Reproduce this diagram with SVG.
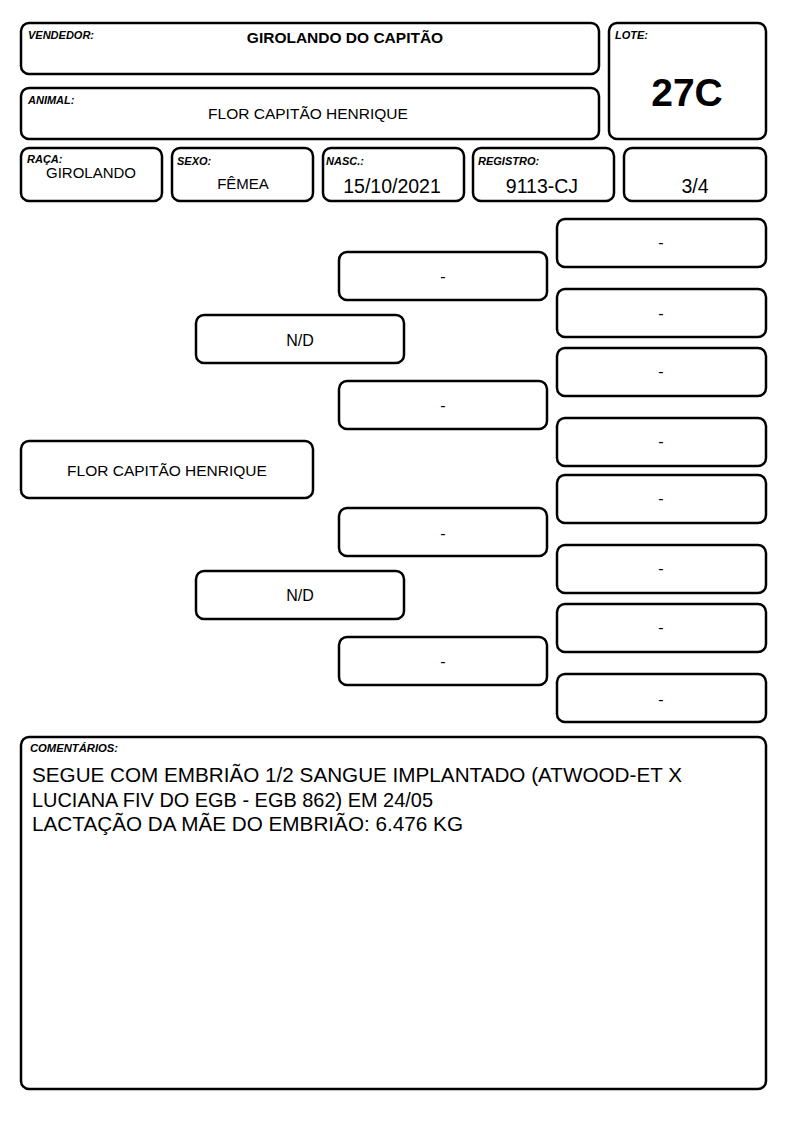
<svg xmlns="http://www.w3.org/2000/svg" width="794" height="1123" viewBox="0 0 794 1123">
<style>
.b{fill:#fff;stroke:#000;stroke-width:2.5}
.l{font-family:"Liberation Sans",Arial,sans-serif;font-size:11px;font-weight:bold;font-style:italic;fill:#000}
.t{font-family:"Liberation Sans",Arial,sans-serif;fill:#000;text-anchor:middle}
.p{font-family:"Liberation Sans",Arial,sans-serif;font-size:16px;fill:#000;text-anchor:middle}
.c{font-family:"Liberation Sans",Arial,sans-serif;font-size:21px;fill:#000}
</style>
<rect width="794" height="1123" fill="#fff"/>
<g id="vendedor"><rect class="b" x="21" y="23" width="578" height="51" rx="8"/><text class="l" x="28" y="39">VENDEDOR:</text><text class="t" x="345" y="43" font-size="15.5" font-weight="bold">GIROLANDO DO CAPITÃO</text></g>
<g id="lote"><rect class="b" x="609" y="23" width="157" height="116" rx="8"/><text class="l" x="615" y="39">LOTE:</text><text class="t" x="687" y="106" font-size="39" font-weight="bold">27C</text></g>
<g id="animal"><rect class="b" x="21" y="88" width="578" height="51" rx="8"/><text class="l" x="28" y="104">ANIMAL:</text><text class="t" x="308" y="119" font-size="15.5">FLOR CAPITÃO HENRIQUE</text></g>
<g id="raca"><rect class="b" x="21" y="148" width="141" height="53" rx="8"/><text class="l" x="27" y="163">RAÇA:</text><text class="t" x="91" y="178" font-size="15">GIROLANDO</text></g>
<g id="sexo"><rect class="b" x="172" y="148" width="141" height="53" rx="8"/><text class="l" x="177" y="165">SEXO:</text><text class="t" x="243" y="189" font-size="15">FÊMEA</text></g>
<g id="nasc"><rect class="b" x="323" y="148" width="141" height="53" rx="8"/><text class="l" x="326" y="165">NASC.:</text><text class="t" x="392" y="193" font-size="19.5">15/10/2021</text></g>
<g id="registro"><rect class="b" x="473" y="148" width="141" height="53" rx="8"/><text class="l" x="478" y="165">REGISTRO:</text><text class="t" x="542" y="193" font-size="19.5">9113-CJ</text></g>
<g id="grau"><rect class="b" x="624" y="148" width="142" height="53" rx="8"/><text class="t" x="695" y="193" font-size="19.5">3/4</text></g>
<g id="connectors"></g>
<g id="p0"><rect class="b" x="21" y="441" width="292" height="57" rx="8"/><text class="p" x="167" y="476" style="font-size:15.5px">FLOR CAPITÃO HENRIQUE</text></g>
<g id="p1"><rect class="b" x="196" y="315" width="208" height="48" rx="8"/><text class="p" x="300" y="346">N/D</text></g>
<g id="p2"><rect class="b" x="196" y="571" width="208" height="48" rx="8"/><text class="p" x="300" y="601">N/D</text></g>
<g id="g1"><rect class="b" x="339" y="252" width="208" height="48" rx="8"/><text class="p" x="443" y="282">-</text></g>
<g id="g2"><rect class="b" x="339" y="381" width="208" height="48" rx="8"/><text class="p" x="443" y="411">-</text></g>
<g id="g3"><rect class="b" x="339" y="508" width="208" height="48" rx="8"/><text class="p" x="443" y="539">-</text></g>
<g id="g4"><rect class="b" x="339" y="637" width="208" height="48" rx="8"/><text class="p" x="443" y="667">-</text></g>
<g id="gg1"><rect class="b" x="557" y="219" width="209" height="48" rx="8"/><text class="p" x="661" y="248">-</text></g>
<g id="gg2"><rect class="b" x="557" y="289" width="209" height="48" rx="8"/><text class="p" x="661" y="319">-</text></g>
<g id="gg3"><rect class="b" x="557" y="348" width="209" height="48" rx="8"/><text class="p" x="661" y="377">-</text></g>
<g id="gg4"><rect class="b" x="557" y="418" width="209" height="48" rx="8"/><text class="p" x="661" y="447">-</text></g>
<g id="gg5"><rect class="b" x="557" y="475" width="209" height="48" rx="8"/><text class="p" x="661" y="504">-</text></g>
<g id="gg6"><rect class="b" x="557" y="545" width="209" height="48" rx="8"/><text class="p" x="661" y="574">-</text></g>
<g id="gg7"><rect class="b" x="557" y="604" width="209" height="48" rx="8"/><text class="p" x="661" y="633">-</text></g>
<g id="gg8"><rect class="b" x="557" y="674" width="209" height="48" rx="8"/><text class="p" x="661" y="705">-</text></g>
<g id="comentarios"><rect class="b" x="21" y="737" width="745" height="352" rx="8"/><text class="l" x="30" y="752" textLength="88" lengthAdjust="spacingAndGlyphs">COMENTÁRIOS:</text>
<text class="c" x="32" y="782" textLength="650" lengthAdjust="spacingAndGlyphs">SEGUE COM EMBRIÃO 1/2 SANGUE IMPLANTADO (ATWOOD-ET X</text>
<text class="c" x="32" y="807" textLength="401" lengthAdjust="spacingAndGlyphs">LUCIANA FIV DO EGB - EGB 862) EM 24/05</text>
<text class="c" x="32" y="831" textLength="431" lengthAdjust="spacingAndGlyphs">LACTAÇÃO DA MÃE DO EMBRIÃO: 6.476 KG</text></g>
</svg>
